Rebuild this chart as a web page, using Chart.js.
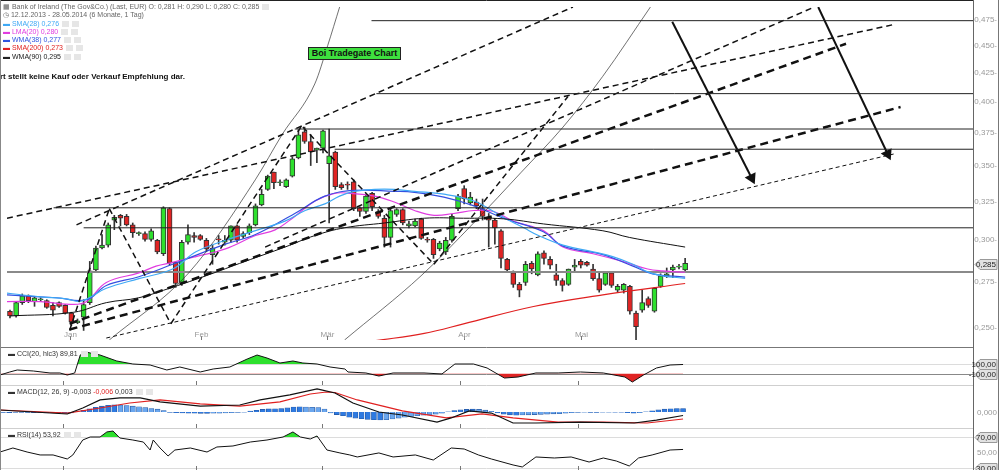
<!DOCTYPE html>
<html>
<head>
<meta charset="utf-8">
<script src="https://cdn.jsdelivr.net/npm/chart.js@4.4.1/dist/chart.umd.min.js"></script>
<style>
  html, body { margin: 0; padding: 0; background: #fff; }
  #wrap { position: relative; width: 1000px; height: 470px; overflow: hidden; font-family: "Liberation Sans", Arial, sans-serif; }
  canvas { position: absolute; left: 0; }
  .lg { position: absolute; left: 3px; font-size: 7px; line-height: 8px; color: #666; white-space: nowrap; }
  .lg b { font-weight: normal; }
  .ic { display: inline-block; width: 7px; height: 6px; background: #e6e6e6; margin-left: 3px; vertical-align: -1px; }
  .sub { position: absolute; left: 8px; font-size: 7px; color: #333; white-space: nowrap; }
  #note { position: absolute; left: 0; top: 72px; font-size: 8px; font-weight: bold; color: #111; white-space: nowrap; }
  #boi { position: absolute; left: 308px; top: 47px; width: 91px; height: 11px; background: #3ee03e; border: 1px solid #222;
         font-size: 9px; font-weight: bold; line-height: 11px; text-align: center; color: #111; }
  #lb { position: absolute; left: 0; top: 0; width: 1px; height: 470px; background: #888; }
  #rb { position: absolute; left: 998px; top: 0; width: 1px; height: 470px; background: #777; }
</style>
</head>
<body>
<div id="wrap">
  <canvas id="cMain" width="1000" height="347" style="top:0"></canvas>
  <canvas id="cCci" width="1000" height="38" style="top:347px"></canvas>
  <canvas id="cMacd" width="1000" height="43" style="top:385px"></canvas>
  <canvas id="cRsi" width="1000" height="42" style="top:428px"></canvas>

  <div class="lg" style="top:3px">&#9638; Bank of Ireland (The Gov&amp;Co.) (Last, EUR) O: 0,281 H: 0,290 L: 0,280 C: 0,285<span class="ic"></span></div>
  <div class="lg" style="top:11px">&#9719; 12.12.2013 - 28.05.2014 (6 Monate, 1 Tag)</div>
  <div class="lg" style="top:20px;color:#3fa9f5"><b>&#9644;</b> SMA(28) 0,276<span class="ic"></span><span class="ic"></span></div>
  <div class="lg" style="top:28px;color:#e03ce0"><b>&#9644;</b> LMA(20) 0,280<span class="ic"></span><span class="ic"></span></div>
  <div class="lg" style="top:36px;color:#2f55e0"><b>&#9644;</b> WMA(38) 0,277<span class="ic"></span><span class="ic"></span></div>
  <div class="lg" style="top:44px;color:#e02020"><b>&#9644;</b> SMA(200) 0,273<span class="ic"></span><span class="ic"></span></div>
  <div class="lg" style="top:53px;color:#222"><b>&#9644;</b> WMA(90) 0,295<span class="ic"></span><span class="ic"></span></div>
  <div id="note">rt stellt keine Kauf oder Verkauf Empfehlung dar.</div>
  <div id="boi">Boi Tradegate Chart</div>

  <div class="sub" style="top:350px">&#9644; CCI(20, hlc3) 89,81<span class="ic"></span><span class="ic"></span></div>
  <div class="sub" style="top:388px">&#9644; MACD(12, 26, 9) -0,003 <span style="color:#e02020">-0,006</span> 0,003<span class="ic"></span><span class="ic"></span></div>
  <div class="sub" style="top:431px">&#9644; RSI(14) 53,92<span class="ic"></span><span class="ic"></span></div>

  <div id="lb"></div>
  <div id="rb"></div>
</div>

<script>
// Tagesdaten: [Open, High, Low, Close], ein Eintrag pro Handelstag (Index = Tag)
const ohlc = [
  [.2581,.2587,.2546,.2556],[.2556,.2633,.2550,.2628],[.2628,.2676,.2618,.2666],[.2666,.2671,.2628,.2639],
  [.2634,.2660,.2608,.2655],[.2644,.2655,.2634,.2646],[.2639,.2644,.2597,.2602],[.2613,.2628,.2556,.2587],
  [.2628,.2633,.2602,.2608],[.2613,.2618,.2566,.2571],[.2571,.2576,.2505,.2525],[.2520,.2540,.2515,.2530],
  [.2550,.2644,.2480,.2618],[.2628,.2864,.2618,.2808],[.2813,.2957,.2802,.2945],[.2945,.3029,.2939,.2963],
  [.2963,.3103,.2951,.3091],[.3122,.3153,.3060,.3140],[.3153,.3159,.3084,.3134],[.3146,.3159,.3084,.3091],
  [.3091,.3103,.3011,.3041],[.3035,.3047,.3023,.3038],[.3035,.3047,.2987,.2999],[.2999,.3066,.2987,.3053],
  [.2993,.2999,.2910,.2922],[.2910,.3210,.2899,.3203],[.3197,.3203,.2842,.2853],[.2858,.2864,.2713,.2735],
  [.2741,.2993,.2724,.2981],[.2981,.3091,.2969,.3029],[.3023,.3041,.2981,.3011],[.3023,.3029,.2993,.2999],
  [.2993,.3005,.2922,.2939],[.2905,.2963,.2847,.2945],[.3002,.3023,.2969,.2996],[.2981,.3023,.2963,.2993],
  [.2993,.3084,.2981,.3084],[.3084,.3091,.2981,.2993],[.3017,.3047,.3005,.3035],[.3041,.3097,.3029,.3084],
  [.3091,.3229,.3084,.3216],[.3222,.3328,.3216,.3295],[.3328,.3429,.3321,.3422],[.3450,.3450,.3334,.3375],
  [.3375,.3395,.3354,.3378],[.3348,.3402,.3341,.3395],[.3422,.3562,.3415,.3547],[.3554,.3767,.3547,.3730],
  [.3752,.3790,.3664,.3678],[.3678,.3730,.3498,.3598],[.3612,.3627,.3519,.3627],[.3627,.3767,.3591,.3760],
  [.3512,.3775,.3103,.3569],[.3598,.3605,.3328,.3348],[.3361,.3375,.3328,.3341],[.3361,.3381,.3328,.3358],
  [.3381,.3395,.3184,.3197],[.3203,.3210,.3146,.3178],[.3178,.3295,.3165,.3282],[.3301,.3308,.3184,.3210],
  [.3178,.3191,.3134,.3146],[.3134,.3153,.2951,.3011],[.3011,.3197,.2951,.3184],[.3159,.3197,.3146,.3191],
  [.3191,.3197,.3091,.3103],[.3084,.3115,.3072,.3097],[.3084,.3128,.3078,.3115],[.3128,.3134,.2999,.3005],
  [.2999,.3011,.2981,.2993],[.2999,.3005,.2882,.2905],[.2939,.2987,.2928,.2975],[.2922,.3011,.2905,.2993],
  [.2993,.3159,.2981,.3146],[.3197,.3295,.3184,.3282],[.3334,.3354,.3229,.3262],[.3235,.3308,.3222,.3275],
  [.3242,.3262,.3197,.3216],[.3197,.3262,.3122,.3146],[.3140,.3165,.2951,.3122],[.3122,.3134,.2969,.3072],
  [.3053,.3060,.2825,.2882],[.2876,.2882,.2797,.2813],[.2797,.2808,.2713,.2730],[.2730,.2741,.2660,.2697],
  [.2741,.2864,.2724,.2847],[.2853,.2864,.2791,.2819],[.2785,.2922,.2779,.2910],[.2916,.2928,.2847,.2882],
  [.2876,.2893,.2819,.2842],[.2785,.2847,.2724,.2752],[.2752,.2763,.2692,.2724],[.2730,.2819,.2724,.2819],
  [.2830,.2876,.2808,.2842],[.2864,.2876,.2825,.2842],[.2858,.2864,.2836,.2842],[.2819,.2847,.2752,.2763],
  [.2763,.2797,.2686,.2697],[.2730,.2802,.2724,.2797],[.2797,.2802,.2713,.2724],[.2697,.2730,.2686,.2719],
  [.2697,.2735,.2681,.2730],[.2719,.2724,.2566,.2582],[.2571,.2582,.2431,.2500],[.2587,.2697,.2576,.2628],
  [.2650,.2660,.2602,.2613],[.2582,.2713,.2576,.2708],[.2719,.2791,.2713,.2779],[.2774,.2825,.2769,.2791],
  [.2813,.2842,.2769,.2830],[.2830,.2847,.2819,.2831],[.2813,.2882,.2808,.2853]
];

// Monatsanfang (Tagesindex) und Beschriftung
const monthIdx = [9.7, 31.2, 51.6, 73.9, 93.0];
const monthNames = ['Jan', 'Feb', 'Mär', 'Apr', 'Mai'];

// Gleitende Durchschnitte: [Tagesindex, Kurs]
const sma28 = [[-0.5,.2681],[4.9,.2660],[9.2,.2649],[11.3,.2634],[12.9,.2655],[15.7,.2708],[21.0,.2763],[26.5,.2819],
  [30.3,.2922],[35.1,.2993],[40.0,.3054],[44.8,.3115],[48.1,.3185],[51.3,.3229],[53.7,.3282],[56.1,.3315],[59.4,.3328],
  [62.6,.3328],[65.9,.3315],[70.7,.3295],[75.6,.3249],[78.8,.3178],[81.2,.3122],[83.7,.3072],[86.1,.3023],[90.1,.2963],
  [95.0,.2922],[98.2,.2893],[101.5,.2847],[103.9,.2802],[106.3,.2779],[110,.2765]];
const lma20 = [[-0.5,.2634],[4.9,.2634],[10.4,.2618],[12.5,.2634],[15.7,.2741],[21.0,.2796],[23.8,.2836],[26.5,.2858],
  [30.3,.2893],[35.1,.2940],[40.0,.3023],[43.2,.3059],[46.4,.3146],[49.7,.3249],[52.9,.3301],[55.3,.3301],[59.4,.3282],
  [62.6,.3242],[65.9,.3185],[69.1,.3153],[72.3,.3165],[75.6,.3185],[78.8,.3178],[82.0,.3115],[86.9,.3054],[90.1,.2951],
  [95.0,.2910],[99.8,.2864],[103.9,.2819],[106.3,.2808],[110,.2800]];
const wma38 = [[-0.5,.2671],[7.6,.2655],[12.5,.2644],[15.7,.2724],[21.0,.2774],[26.5,.2847],[35.1,.2969],[40.0,.3029],
  [46.4,.3165],[51.3,.3282],[56.1,.3321],[62.6,.3315],[65.9,.3308],[70.7,.3275],[75.6,.3216],[80.4,.3134],[86.9,.3047],
  [90.1,.2957],[96.6,.2905],[101.5,.2836],[104.7,.2791],[110,.2772]];
const wma90 = [[0,.2556],[10.4,.2576],[15.7,.2628],[21.0,.2655],[26.5,.2714],[31.9,.2779],[38.3,.2864],[44.8,.2951],
  [49.7,.3023],[54.5,.3072],[61.0,.3103],[67.5,.3134],[73.9,.3134],[80.4,.3130],[86.9,.3097],[96.6,.3053],[100.9,.3011],
  [110,.2951]];
const sma200 = [[50.0,.2390],[60.8,.2433],[67.5,.2465],[73.9,.2514],[85.3,.2607],[96.6,.2671],[110,.2735]];

// Eingezeichnete Linien: [[Index, Kurs], [Index, Kurs]]
const zigzag = [
  [[9.71,.2480],[16.18,.3197]], [[16.18,.3197],[26.21,.2515]], [[26.21,.2515],[47.40,.3790]],
  [[47.72,.3790],[69.07,.2847]], [[69.07,.2847],[90.91,.4040]]
];
const fanMedium = [
  [[10.84,.3091],[91.72,.4869]], [[-0.49,.3134],[143.97,.4694]], [[41.57,.2951],[131.03,.4869]]
];
const fanThick = [
  [[9.71,.2515],[136.21,.4510]], [[9.71,.2485],[145.10,.3952]]
];
const fanThin = [
  [[15.69,.2441],[143.97,.3583]]
];
const arcs = [
  [[16.18,.2431],[29.12,.2796],[39.96,.3395],[44.32,.3730],[49.66,.4147],[51.76,.4492],[53.71,.4869]],
  [[54.51,.2431],[66.97,.2779],[75.54,.3103],[83.31,.3450],[90.10,.3790],[96.57,.4213],[104.34,.4869]]
];
const arrows = [
  [[107.90,.4722],[120.84,.3408]], [[131.68,.4869],[143.00,.3583]]
];
// waagerechte Linien: [Start-Index, Kurs]
const hLines = [[58.9,.4732],[59.7,.4064],[46.4,.3775],[52.9,.3619],[7.1,.3203],[12.0,.3072]];
const lastLine = [-0.49, .2802];

// Indikatoren: [Tagesindex, Wert]
const cci = [[-0.5,-132],[1.1,-68],[2.3,-26],[4.9,-47],[7.6,-89],[9.2,-89],[10.4,-132],[11.6,-89],[12.5,290],[13.3,358],
  [14.1,332],[15.7,289],[18.4,163],[21.0,100],[23.8,79],[26.5,-26],[28.6,37],[31.9,-68],[34.0,-5],[36.7,37],[39.5,205],
  [41.1,289],[42.7,226],[44.8,121],[46.9,163],[48.5,121],[50.8,100],[52.9,37],[55.3,-5],[55.8,-68],[58.7,-89],
  [60.8,-153],[63.1,-89],[68.1,-89],[71.0,-110],[73.1,100],[76.1,100],[78.3,16],[81.1,-195],[83.3,-174],[86.2,-89],
  [89.8,-89],[93.4,-68],[97.1,-89],[100.6,-174],[101.8,-279],[103.6,-132],[105.7,16],[107.9,79],[110,89.8]];
const macd = [[-0.5,.0017],[10.4,-.0017],[12.9,.0034],[15.7,.0103],[18.9,.0120],[22.2,.0120],[25.4,.0086],[31.9,.0051],
  [38.3,.0060],[41.6,.0103],[46.4,.0146],[50.8,.0197],[51.5,.0189],[53.7,.0163],[56.6,.0077],[60.8,0],[64.6,-.0026],
  [70.2,-.0086],[72.5,-.0051],[75.4,.0009],[79.0,-.0009],[82.5,-.0094],[86.2,-.0094],[93.4,-.0086],[102.1,-.0094],
  [105.7,-.0069],[110,-.0030]];
const signal = [[-0.5,.0017],[10.4,-.0009],[15.7,.0034],[20.5,.0077],[25.4,.0103],[31.9,.0069],[38.3,.0051],[44.8,.0086],
  [49.7,.0154],[52.3,.0171],[53.7,.0167],[57.3,.0103],[64.6,.0009],[71.7,-.0051],[77.5,-.0017],[82.5,-.0051],
  [89.8,-.0086],[97.1,-.0086],[104.2,-.0094],[110,-.0060]];
const hist = [-.0004,-.0005,-.0004,-.0003,-.0004,-.0005,-.0006,-.0007,-.0008,-.0009,-.0010,-.0008,
  .0002,.0015,.0028,.0040,.0050,.0058,.0062,.0060,.0055,.0050,.0044,.0037,.0030,.0024,.0012,
  -.0004,-.0006,-.0008,-.0010,-.0011,-.0012,-.0012,-.0011,-.0010,-.0008,-.0006,-.0004,-.0001,
  .0008,.0015,.0022,.0026,.0028,.0030,.0035,.0042,.0045,.0042,.0040,.0038,.0025,
  -.0008,-.0022,-.0032,-.0045,-.0052,-.0058,-.0063,-.0066,-.0068,-.0066,-.0060,-.0052,-.0045,-.0038,-.0032,
  -.0028,-.0025,-.0018,-.0010,.0002,.0012,.0018,.0022,.0024,.0022,.0016,.0006,
  -.0008,-.0018,-.0024,-.0027,-.0026,-.0024,-.0022,-.0020,-.0018,-.0016,-.0015,-.0010,-.0006,-.0004,-.0002,
  -.0003,-.0004,-.0002,-.0001,-.0001,-.0002,-.0006,-.0010,-.0006,.0002,.0010,.0018,.0024,.0028,.0030,.0030];
const rsi = [[-0.5,50.6],[1.6,55.8],[3.9,50.6],[6.0,46.8],[8.1,46.8],[10.4,41.6],[11.3,46.8],[12.9,66.1],[14.1,70],
  [15.7,70],[16.8,76.5],[17.8,77.7],[18.9,68.7],[21.0,66.1],[22.7,63.5],[23.8,53.2],[24.3,66.1],[25.4,55.8],[26.7,45.5],
  [27.8,53.2],[30.3,55.8],[33.0,50.6],[34.6,57.1],[37.2,58.4],[40.0,63.5],[42.7,66.1],[45.3,70],[46.9,76.5],[48.1,70],
  [49.7,67.4],[50.8,71.3],[52.4,53.2],[54.5,49.4],[56.1,46.8],[57.3,44.2],[60.8,49.4],[63.1,44.2],[66.7,46.8],[69.6,40.3],
  [72.5,55.8],[74.6,54.5],[76.9,46.8],[79.0,41.6],[82.5,33.9],[84.0,31.3],[86.2,44.2],[89.2,42.9],[91.9,44.2],[94.8,37.7],
  [97.1,42.9],[99.2,39.0],[101.3,32.6],[102.8,42.9],[105.0,46.8],[107.9,53.2],[110,53.92]];

// Achsen-Ticks rechts
const priceTicks = [0.25, 0.275, 0.3, 0.325, 0.35, 0.375, 0.4, 0.425, 0.45, 0.475];
const lastPrice = 0.285;

const XMIN = -0.485, XMAX = 156.9;
const FONT = '"Liberation Sans", Arial, sans-serif';
const fmt = (v, d) => v.toFixed(d).replace('.', ',');
const pts = arr => arr.map(p => ({ x: p[0], y: p[1] }));

function line(data, color, width, dash, extra) {
  return Object.assign({
    type: 'line', data: pts(data), borderColor: color, borderWidth: width, borderDash: dash || [],
    pointRadius: 0, tension: 0, fill: false, order: 2
  }, extra || {});
}

// Rahmen, Achsenbeschriftung, Monatsmarken
const decor = {
  id: 'decor',
  beforeDatasetsDraw(chart, args, o) {
    const { ctx, chartArea: a, scales: { y } } = chart;
    ctx.save();
    (o.levels || []).forEach(l => {
      const py = Math.round(y.getPixelForValue(l.v)) + 0.5;
      ctx.strokeStyle = l.color; ctx.lineWidth = 1;
      ctx.beginPath(); ctx.moveTo(a.left, py); ctx.lineTo(a.right, py); ctx.stroke();
    });
    ctx.restore();
  },
  afterDraw(chart, args, o) {
    const { ctx, chartArea: a, scales: { x, y } } = chart;
    ctx.save();
    ctx.lineWidth = 1;
    ctx.strokeStyle = o.topColor;
    ctx.beginPath(); ctx.moveTo(0, 0.5); ctx.lineTo(a.right, 0.5); ctx.stroke();
    ctx.strokeStyle = '#666';
    ctx.beginPath(); ctx.moveTo(a.right + 0.5, 0); ctx.lineTo(a.right + 0.5, chart.height); ctx.stroke();

    ctx.font = '8px ' + FONT;
    monthIdx.forEach((m, k) => {
      const px = Math.round(x.getPixelForValue(m)) + 0.5;
      ctx.strokeStyle = '#777';
      ctx.beginPath(); ctx.moveTo(px, a.bottom - 4); ctx.lineTo(px, a.bottom); ctx.stroke();
      if (o.monthText) {
        ctx.fillStyle = '#999'; ctx.textAlign = 'center'; ctx.textBaseline = 'alphabetic';
        ctx.fillText(monthNames[k], px, a.bottom - 3);
      }
    });

    ctx.textBaseline = 'middle';
    (o.labels || []).forEach(l => {
      const py = Math.round(y.getPixelForValue(l.v)) + 0.5;
      if (l.tag) {
        const x0 = a.right + 2, x1 = a.right + 24;
        ctx.fillStyle = '#e2e2e2'; ctx.strokeStyle = '#999';
        ctx.beginPath();
        ctx.moveTo(x0, py); ctx.lineTo(x0 + 5, py - 5); ctx.lineTo(x1, py - 5);
        ctx.lineTo(x1, py + 5); ctx.lineTo(x0 + 5, py + 5); ctx.closePath();
        ctx.fill(); ctx.stroke();
        ctx.fillStyle = '#222'; ctx.textAlign = 'right';
        ctx.fillText(l.t, x1 - 1, py);
      } else {
        ctx.fillStyle = '#999'; ctx.textAlign = 'right';
        ctx.fillText(l.t, a.right + 24, py);
      }
    });
    ctx.restore();
  }
};

function baseOptions(y, decorOpts) {
  return {
    responsive: false, animation: false, devicePixelRatio: 1, events: [],
    layout: { padding: { left: 0, right: 27, top: 0, bottom: 0 } },
    plugins: { legend: { display: false }, tooltip: { enabled: false }, decor: decorOpts },
    scales: {
      x: { type: 'linear', min: XMIN, max: XMAX, display: false, offset: false },
      y: Object.assign({ display: false }, y)
    }
  };
}

// Hauptchart
const up = '#2ee02e', down = '#e02424';
const mainSets = [
  { type: 'bar', data: ohlc.map((d, i) => ({ x: i, y: [d[2], d[1]] })), backgroundColor: '#333',
    barThickness: 1, grouped: false, order: 21 },
  { type: 'bar', data: ohlc.map((d, i) => ({ x: i, y: [d[0], d[3]] })),
    backgroundColor: c => (ohlc[c.dataIndex][3] >= ohlc[c.dataIndex][0] ? up : down),
    borderColor: '#333', borderWidth: 1, borderSkipped: false, barThickness: 5, minBarLength: 1,
    grouped: false, order: 20 },
  line(sma200, '#e02020', 1.2, null, { tension: 0.4, order: 10 }),
  line(wma90, '#111', 1, null, { tension: 0.4, order: 10 }),
  line(sma28, '#3fa9f5', 1.2, null, { tension: 0.4, order: 10 }),
  line(wma38, '#3550e0', 1.2, null, { tension: 0.4, order: 10 }),
  line(lma20, '#e03ce0', 1.2, null, { tension: 0.4, order: 10 }),
  line([lastLine, [XMAX, lastLine[1]]], '#8a8a8a', 2, null, { order: 15 })
];
hLines.forEach(h => mainSets.push(line([h, [XMAX, h[1]]], '#222', 1)));
zigzag.forEach(l => mainSets.push(line(l, '#111', 1.5, [6, 4])));
fanMedium.forEach(l => mainSets.push(line(l, '#111', 1.5, [6, 4])));
fanThick.forEach(l => mainSets.push(line(l, '#111', 2.5, [8, 5])));
fanThin.forEach(l => mainSets.push(line(l, '#111', 1, [4, 3])));
arcs.forEach(l => mainSets.push(line(l, '#333', 0.7, null, { cubicInterpolationMode: 'monotone' })));
arrows.forEach(l => {
  const dx = l[1][0] - l[0][0];
  mainSets.push(line(l, '#111', 2, null, {
    pointRadius: [0, 5], pointStyle: 'triangle', pointBackgroundColor: '#111', pointBorderColor: '#111',
    pointRotation: [0, dx > 11 ? 154 : 155]
  }));
});

new Chart(document.getElementById('cMain'), {
  type: 'bar',
  data: { datasets: mainSets },
  options: baseOptions(
    { type: 'logarithmic', min: 0.2431, max: 0.4869 },
    {
      topColor: '#222', monthText: true,
      labels: priceTicks.map(v => ({ v, t: fmt(v, 3) + '-' })).concat([{ v: lastPrice, t: fmt(lastPrice, 3), tag: true }])
    }
  ),
  plugins: [decor]
});

// CCI
new Chart(document.getElementById('cCci'), {
  type: 'line',
  data: { datasets: [
    line(cci, '#111', 1, null, { order: 1, fill: { target: { value: 100 }, above: '#2ee02e', below: 'rgba(0,0,0,0)' } }),
    line(cci, 'rgba(0,0,0,0)', 0, null, { order: 2, fill: { target: { value: -100 }, above: 'rgba(0,0,0,0)', below: '#e02424' } })
  ] },
  options: baseOptions({ type: 'linear', min: -342, max: 458 }, {
    topColor: '#777',
    levels: [{ v: 100, color: '#dcdcdc' }, { v: -100, color: '#888' }],
    labels: [{ v: 100, t: '100,00', tag: true }, { v: -100, t: '-100,00', tag: true }]
  }),
  plugins: [decor]
});

// MACD
new Chart(document.getElementById('cMacd'), {
  type: 'bar',
  data: { datasets: [
    line(macd, '#111', 1.2, null, { order: 1 }),
    line(signal, '#e02020', 1.2, null, { order: 1 }),
    { type: 'bar', data: hist.map((v, i) => ({ x: i, y: v })), barThickness: 5, grouped: false, order: 5,
      backgroundColor: c => (c.dataIndex > 0 && Math.abs(hist[c.dataIndex]) < Math.abs(hist[c.dataIndex - 1]) ? '#6aa6ee' : '#2f7ae0'),
      borderColor: '#2456a0', borderWidth: 0.6 }
  ] },
  options: baseOptions({ type: 'linear', min: -0.0137, max: 0.0231 }, {
    topColor: '#cfcfcf',
    labels: [{ v: 0, t: '0,000' }]
  }),
  plugins: [decor]
});

// RSI
new Chart(document.getElementById('cRsi'), {
  type: 'line',
  data: { datasets: [
    line(rsi, '#111', 1, null, { order: 1, fill: { target: { value: 70 }, above: '#2ee02e', below: 'rgba(0,0,0,0)' } })
  ] },
  options: baseOptions({ type: 'linear', min: 27.4, max: 81.6 }, {
    topColor: '#cfcfcf',
    levels: [{ v: 70, color: '#dcdcdc' }, { v: 30, color: '#dcdcdc' }],
    labels: [{ v: 70, t: '70,00', tag: true }, { v: 50, t: '50,00' }, { v: 30, t: '30,00', tag: true }]
  }),
  plugins: [decor]
});
</script>
</body>
</html>
